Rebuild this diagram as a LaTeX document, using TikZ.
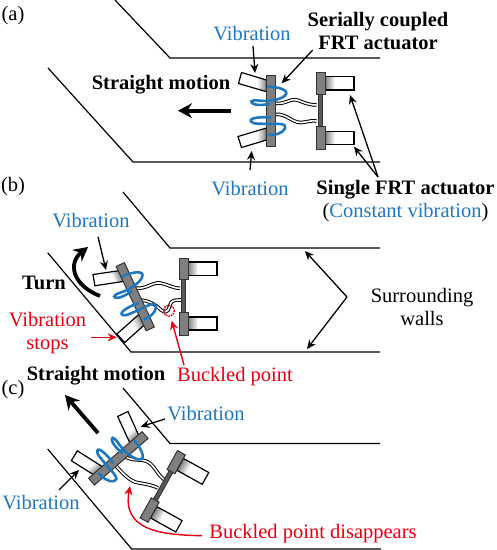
\documentclass[tikz,border=0pt]{standalone}
\usepackage{fontspec}
\setmainfont{Liberation Serif}
\usetikzlibrary{arrows.meta}
\definecolor{vblue}{HTML}{1F78BE}
\definecolor{vred}{HTML}{E60012}
\definecolor{barg}{HTML}{7F7F7F}
\pgfdeclarehorizontalshading{cylshade}{100bp}{color(0bp)=(white); color(25bp)=(white); color(58bp)=(white); color(75bp)=(black!50); color(100bp)=(black!50)}
\tikzset{
  wall/.style={line width=1.2pt,black},
  lbl/.style={font=\fontsize{20.5}{23}\selectfont,inner sep=0pt,align=center},
  blbl/.style={font=\fontsize{20.5}{22.5}\selectfont\bfseries,inner sep=0pt,align=center},
  thin arrow/.style={line width=1.3pt,-{Stealth[length=9pt,width=8pt]}},
  red arrow/.style={line width=1.4pt,vred,-{Stealth[length=9pt,width=8pt]}},
  thick arrow/.style={line width=3.8pt,-{Stealth[length=14pt,width=15pt]}},
  barbox/.style={draw=black!80,fill=barg,line width=1pt},
  cyl/.style={draw=black,line width=1.2pt,shade,shading=cylshade},
  coil/.style={vblue,line width=2.6pt},
  wire/.style={draw=black,line width=1pt,double=white,double distance=1.6pt},
}
\newcommand{\frontunit}[3]{%
 \begin{scope}[shift={(#1,#2)},rotate=#3]
  \draw[cyl,shading angle=#3] (-29,-38)--(-32,-27)--(-4,-18.8)--(-4,-30.5)--cycle;
  \draw[cyl,shading angle=#3] (-32.5,26)--(-29,37)--(-4,29.5)--(-4,17.5)--cycle;
  \draw[barbox] (-4.5,-35.5) rectangle (4.5,35.5);
  \draw[coil] (-3.2,-23.8) .. controls (8,-24) and (20,-20) .. (14.5,-15) .. controls (10,-10) and (-5,-9) .. (-12,-10)
     .. controls (-20,-11) and (-22,-8) .. (-15,-6) .. controls (-10,-5) and (-5,-6) .. (-0.5,-6.5);
  \draw[coil] (0.5,7.2) .. controls (-8,6) and (-22,7) .. (-19.5,11) .. controls (-18,14) and (-8,13) .. (-0.5,13.5)
     .. controls (8,13) and (17,13) .. (14.5,18) .. controls (12,23) and (4,25) .. (-2.2,24.5);
 \end{scope}}
\newcommand{\rearunit}[3]{%
 \begin{scope}[shift={(#1,#2)},rotate=#3]
  \draw[cyl,shading angle=#3+180] (4.5,-34) rectangle (33.5,-20.5);
  \draw[cyl,shading angle=#3+180] (4.5,21) rectangle (33.5,34);
  \draw[barbox,fill=black!65] (-2,-17) rectangle (2,17);
  \draw[barbox] (-4.5,-38) rectangle (4.5,-16.5);
  \draw[barbox] (-4.5,16) rectangle (4.5,39);
 \end{scope}}
\begin{document}
\begin{tikzpicture}[x=1pt,y=-1pt]
\useasboundingbox (0,0) rectangle (497,550);
\fill[white] (0,0) rectangle (497,550);
% walls
\draw[wall] (115,0) -- (170,58) -- (380,58);
\draw[wall] (48,68) -- (133,162) -- (380,162);
\draw[wall] (123,192) -- (170,248) -- (380,248);
\draw[wall] (47.7,252.7) -- (131,352) -- (380,352);
\draw[wall] (123,388) -- (170,443.5) -- (380,443.5);
\draw[wall] (47.7,449) -- (131.7,549) -- (381,549);
% panel a
\draw[wire] (273,102.7) .. controls (283,106) and (290,98) .. (297,100) .. controls (303,102) and (308,105) .. (316.5,105);
\draw[wire] (273,115) .. controls (283,112) and (290,120) .. (297,122) .. controls (303,124) and (308,120) .. (316.5,121);
\frontunit{270.5}{110.5}{0}
\rearunit{320.5}{110.5}{0}
% panel b
\draw[wire] (134,288) .. controls (146,290) and (152,282) .. (160,283) .. controls (167,284) and (172,288) .. (180,288.3);
\draw[wire] (138,300) .. controls (148,300) and (155,304) .. (161,310) .. controls (168,315) and (169,308) .. (170,305) .. controls (171,300) and (175,300) .. (181,300);
\frontunit{135.3}{296.7}{25}
\rearunit{183.5}{296}{0}
\draw[vred,densely dotted,line width=1.5pt] (169,310.7) circle (5.5);
% panel c
\draw[wire] (125,456.7) .. controls (135,462) and (140,458) .. (148,462) .. controls (155,466) and (158,476) .. (165,480);
\draw[wire] (115,465) .. controls (122,472) and (126,478) .. (135,482) .. controls (143,484) and (150,484) .. (158,488);
\frontunit{118.3}{458.3}{-49}
\rearunit{163}{486}{-29}
% labels
\node[lbl] (pa) at (13,16) {(a)};
\node[lbl] (pb) at (13,187) {(b)};
\node[lbl] (pc) at (13,390) {(c)};
\node[lbl,text=vblue] (va1) at (252,34) {Vibration};
\node[lbl,text=vblue] (va2) at (250,189) {Vibration};
\node[blbl] (sc) at (378,31) {Serially coupled\\FRT actuator};
\node[blbl] (sm1) at (161,85) {Straight motion};
\node[lbl] (sf) at (405.5,201) {\textbf{Single FRT actuator}\\(\textcolor{vblue}{Constant vibration})};
\node[lbl,text=vblue] (vb) at (91,221) {Vibration};
\node[blbl] (turn) at (44,283) {Turn};
\node[lbl,text=vred] (vs) at (47.5,333) {Vibration\\stops};
\node[lbl,text=vred] (bp) at (235,377) {Buckled point};
\node[lbl] (sw) at (422,307) {Surrounding\\walls};
\node[blbl] (sm2) at (96,376) {Straight motion};
\node[lbl,text=vblue] (vc1) at (206,414) {Vibration};
\node[lbl,text=vblue] (vc2) at (41,503) {Vibration};
\node[lbl,text=vred] (bd) at (313,534) {Buckled point disappears};
% connectors: panel a
\coordinate (a1t) at (255,73); \coordinate (a1s) at (253,46);
\draw[thin arrow] (a1s) -- (a1t);
\coordinate (a2t) at (251.7,151); \coordinate (a2s) at (250,170);
\draw[thin arrow] (a2s) -- (a2t);
\coordinate (a3s) at (312.7,50); \coordinate (a3t) at (281.7,83.3);
\draw[thin arrow] (a3s) -- (a3t);
\coordinate (a4s) at (378,177); \coordinate (a4t) at (350,95); \coordinate (a5t) at (354,146.7);
\draw[thin arrow] (a4s) -- (a4t);
\draw[thin arrow] (a4s) -- (a5t);
\coordinate (a6s) at (231,110.7); \coordinate (a6t) at (178,110.7);
\draw[thick arrow] (a6s) -- (a6t);
% connectors: panel b
\coordinate (b1s) at (98,236.7); \coordinate (b1t) at (106,270);
\draw[thin arrow] (b1s) -- (b1t);
\coordinate (b2s) at (100,296); \coordinate (b2t) at (88,247);
\draw[thick arrow] (b2s) .. controls (72,285) and (68,263) .. (b2t);
\coordinate (b3s) at (90.7,337.3); \coordinate (b3t) at (116.7,337.3);
\draw[red arrow] (b3s) -- (b3t);
\coordinate (b4s) at (184,365); \coordinate (b4t) at (171.7,320.7);
\draw[red arrow] (b4s) -- (b4t);
\coordinate (b5s) at (347,297); \coordinate (b5t) at (305,251); \coordinate (b6t) at (307,349);
\draw[thin arrow] (b5s) -- (b5t);
\draw[thin arrow] (b5s) -- (b6t);
% connectors: panel c
\coordinate (c1s) at (98,433); \coordinate (c1t) at (65,395);
\draw[thick arrow] (c1s) -- (c1t);
\coordinate (c2s) at (165,419); \coordinate (c2t) at (140.7,426.7);
\draw[thin arrow] (c2s) -- (c2t);
\coordinate (c3s) at (59,490); \coordinate (c3t) at (79,470);
\draw[thin arrow] (c3s) -- (c3t);
\coordinate (c4s) at (202,535.7); \coordinate (c4t) at (130,486);
\draw[red arrow] (c4s) .. controls (160,535) and (122,530) .. (c4t);
\end{tikzpicture}
\end{document}
